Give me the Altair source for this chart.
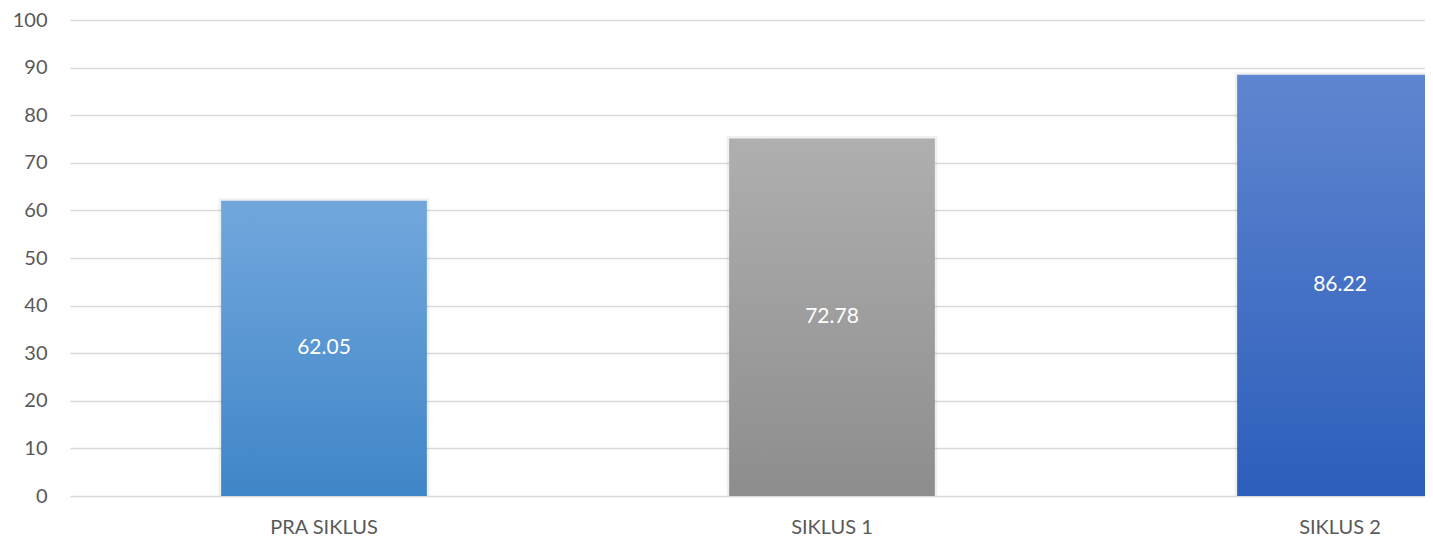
import altair as alt
import pandas as pd

categories = ["PRA SIKLUS", "SIKLUS 1", "SIKLUS 2"]
bar_heights = [62.05, 75.1, 88.5]
label_texts = ["62.05", "72.78", "86.22"]
top_colors = ["#72a7dc", "#afafaf", "#5f86d0"]
bottom_colors = ["#3f86c8", "#8d8d8d", "#2d5ebb"]

df = pd.DataFrame({"cat": categories, "value": bar_heights, "label": label_texts})

FONT = "Lato"
x_enc = alt.X(
    "cat:N",
    sort=categories,
    title=None,
    scale=alt.Scale(range=[0, 1524], paddingInner=0.595, paddingOuter=0.2975),
    axis=alt.Axis(
        labelAngle=0, domain=False, ticks=False, labelPadding=21,
        labelFont=FONT, labelFontSize=20, labelColor="#595959", grid=False,
    ),
)
y_axis = alt.Axis(
    values=list(range(0, 101, 10)), domain=False, ticks=False, labelPadding=23,
    labelFont=FONT, labelFontSize=20, labelColor="#595959",
    gridColor="#d9d9d9", gridWidth=1.5,
)
y_scale = alt.Scale(domain=[0, 100], nice=False)
y_enc = alt.Y("value:Q", title=None, scale=y_scale, axis=y_axis)

base = alt.Chart(df)
layers = []
for c, t, b in zip(categories, top_colors, bottom_colors):
    grad = alt.Gradient(
        gradient="linear", x1=0, y1=0, x2=0, y2=1,
        stops=[alt.GradientStop(color=t, offset=0), alt.GradientStop(color=b, offset=1)],
    )
    shadow = base.mark_bar(
        clip=True, fillOpacity=0.0, stroke="#000000",
        strokeOpacity=0.06, strokeWidth=5,
    ).encode(x=x_enc, y=y_enc).transform_filter(alt.datum.cat == c)
    bar = base.mark_bar(clip=True, color=grad).encode(x=x_enc, y=y_enc).transform_filter(
        alt.datum.cat == c
    )
    layers += [shadow, bar]

text = base.mark_text(
    font=FONT, fontSize=21, color="#ffffff", baseline="middle", clip=True
).encode(
    x=x_enc,
    y=alt.Y("mid:Q", title=None, scale=y_scale, axis=y_axis),
    text="label:N",
).transform_calculate(mid="datum.value / 2")

chart = alt.layer(*layers, text).properties(
    width=1355, height=476, background="#ffffff",
    autosize=alt.AutoSizeParams(type="none"),
    padding={"left": 62, "top": 12, "right": 0, "bottom": 42},
).configure_view(stroke=None).configure_axis(gridCap="butt")

chart.save("out.html", embed_options={"renderer": "svg", "actions": False})
